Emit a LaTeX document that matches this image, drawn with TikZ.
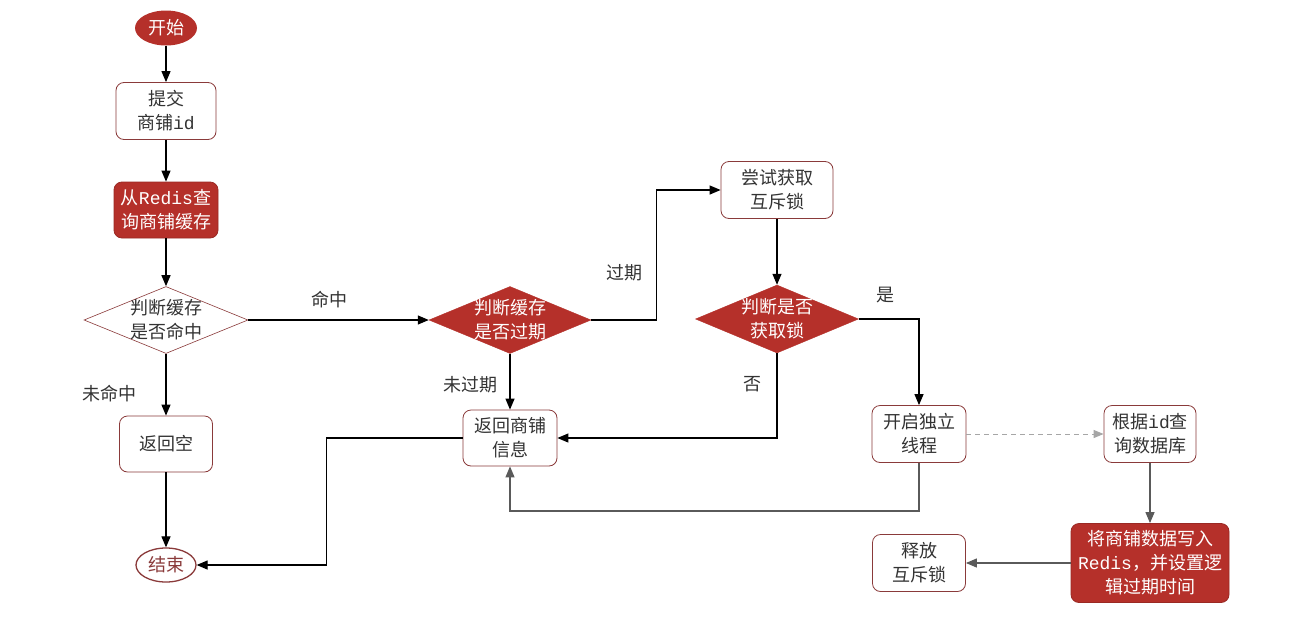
\documentclass[tikz,border=0pt]{standalone}
\usepackage{fontspec}
\setmainfont{Noto Sans CJK SC}
\newfontfamily\monof{Liberation Mono}
\usetikzlibrary{shapes.geometric,arrows.meta}
\definecolor{redfill}{HTML}{B5302A}
\definecolor{boxline}{HTML}{8A3A3A}
\definecolor{txt}{HTML}{333333}
\definecolor{grayline}{HTML}{5A5A5A}
\begin{document}
\begin{tikzpicture}[x=1pt,y=-1pt,
  font=\fontsize{18}{24}\selectfont,
  box/.style={draw=boxline, line width=0.8pt, rounded corners=8pt, fill=white, text=txt,
    align=center, inner sep=0pt, minimum width=96pt, minimum height=57pt},
  redbox/.style={box, fill=redfill, draw=redfill!85!black, text=white},
  dia/.style={shape=diamond, aspect=2.45, inner sep=-12pt, align=center,
    minimum width=164pt, minimum height=67pt},
  whitedia/.style={dia, draw=boxline, line width=0.6pt, fill=white, text=txt},
  reddia/.style={dia, fill=redfill, draw=redfill, text=white},
  term/.style={shape=ellipse, inner sep=0pt, minimum width=62pt, minimum height=35pt},
  arr/.style={line width=1.2pt, -{Triangle[length=11pt,width=9pt]}},
  garr/.style={arr, draw=grayline},
  lbl/.style={text=txt, inner sep=0pt}
]
\useasboundingbox (0,0) rectangle (1310,627);
\fill[white] (0,0) rectangle (1310,627);

% nodes
\node[term, fill=redfill, text=white] (start) at (166,28) {开始};
\node[box, minimum width=100pt] (submit) at (166,111) {提交\\商铺{\monof id}};
\node[redbox, minimum width=104pt, minimum height=56pt] (query) at (166,210) {从{\monof Redis}查\\询商铺缓存};
\node[whitedia] (hit) at (166,320) {判断缓存\\是否命中};
\node[box, minimum width=93pt, minimum height=56pt] (empty) at (166,444) {返回空};
\node[term, draw=boxline, line width=1.3pt, fill=white, text=boxline, minimum width=60pt, minimum height=34pt] (end) at (166,565) {结束};
\node[reddia, minimum width=162pt] (exp) at (510,320) {判断缓存\\是否过期};
\node[box, minimum width=94pt, minimum height=56pt] (ret) at (510,438) {返回商铺\\信息};
\node[box, minimum width=112pt] (try) at (777,190) {尝试获取\\互斥锁};
\node[reddia, minimum width=163pt, minimum height=68pt] (lock) at (777,319) {判断是否\\获取锁};
\node[box, minimum width=94pt] (thread) at (919,434) {开启独立\\线程};
\node[box, minimum width=92pt] (db) at (1150,434) {根据{\monof id}查\\询数据库};
\node[redbox, minimum width=158pt, minimum height=79pt] (write) at (1150,563) {将商铺数据写入\\{\monof Redis}，并设置逻\\辑过期时间};
\node[box, minimum width=93pt] (release) at (919,563) {释放\\互斥锁};

% connectors
\draw[arr] (start) -- (submit);
\draw[arr] (submit) -- (query);
\draw[arr] (query) -- (hit);
\draw[arr] (hit.south) -- node[lbl, pos=0.65, left=29pt] {未命中} (empty.north);
\draw[arr] (hit.east) -- node[lbl, pos=0.45, above=11pt] {命中} (exp.west);
\draw[arr] (empty) -- (end);
\draw[arr] (exp.east) -- ++(65,0) |- node[lbl, pos=0.18, left=13pt] {过期} (try.west);
\draw[arr] (exp.south) -- node[lbl, pos=0.55, left=12pt] {未过期} (ret.north);
\draw[arr] (try.south) -- (lock.north);
\draw[arr] (lock.east) -| node[lbl, pos=0.22, above=15pt] {是} (thread.north);
\draw[arr] (lock.south) |- node[lbl, pos=0.18, left=15pt] {否} (ret.east);
\draw[arr] (ret.west) -- ++(-136,0) |- (end.east);
\draw[garr] (thread.south) -- ++(0,48) -| (ret.south);
\draw[line width=1pt, draw=gray!70, dashed, dash pattern=on 5pt off 4pt,
  -{Triangle[length=10pt,width=8pt]}, color=gray!70] (thread.east) -- (db.west);
\draw[garr] (db.south) -- (write.north);
\draw[garr] (write.west) -- (release.east);
\end{tikzpicture}
\end{document}
